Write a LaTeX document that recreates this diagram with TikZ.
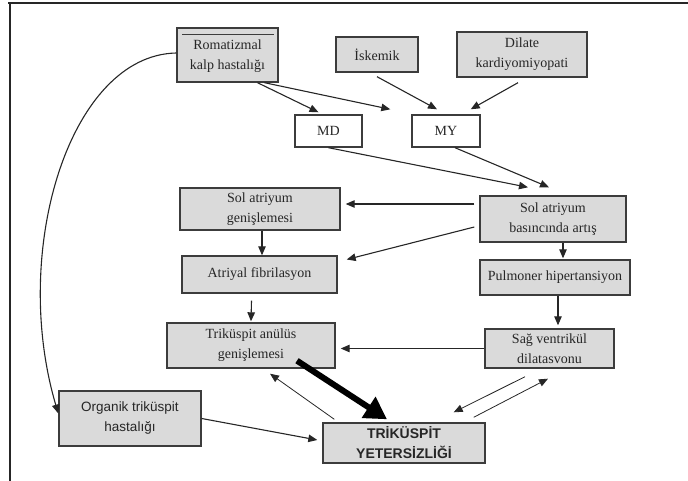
\documentclass[tikz,border=0pt]{standalone}
\usepackage{fontspec}
\setmainfont{Liberation Serif}
\newfontfamily\arialf{Liberation Sans}
\usepackage{tikz}
\usetikzlibrary{arrows.meta}

\definecolor{boxgray}{HTML}{DADADA}
\definecolor{edgegray}{HTML}{3C3C3C}
\tikzset{
  gbox/.style={draw=edgegray, fill=boxgray, line width=1.4pt, align=center,
    inner sep=0pt, text=black!85, font=\fontsize{14}{20}\selectfont},
  wbox/.style={gbox, fill=white},
  sbox/.style={gbox, font=\arialf\fontsize{13.5}{20}\selectfont},
  arr/.style={line width=1.1pt, draw=black!85, -{Triangle[length=9pt,width=7.5pt]}},
  thinarr/.style={line width=0.8pt, draw=black!85, -{Triangle[length=9pt,width=7.5pt]}},
}

\begin{document}
\begin{tikzpicture}[x=1pt,y=-1pt]
  \useasboundingbox (0,0) rectangle (688,481);
  \draw[line width=1.4pt, black!85] (8,3) -- (688,3);
  \draw[line width=1.2pt, black!85] (10,3) -- (10,481);

  \node[gbox, minimum width=101pt, minimum height=54pt, text depth=-6pt] (rom) at (227.5,55) {Romatizmal\\kalp hastalığı};
  \draw[line width=1.4pt, edgegray] ([xshift=6pt,yshift=-7pt]rom.north west) -- ([xshift=-5pt,yshift=-7pt]rom.north east);
  \node[gbox, minimum width=82pt, minimum height=35pt] (isk) at (377,54.5) {İskemik};
  \node[gbox, minimum width=130pt, minimum height=45pt] (dil) at (522,54.5) {Dilate\\kardiyomiyopati};
  \node[wbox, minimum width=67pt, minimum height=32pt] (md) at (328.5,131) {MD};
  \node[wbox, minimum width=68pt, minimum height=32pt] (my) at (446,131) {MY};

  \node[gbox, minimum width=160pt, minimum height=42pt] (sag) at (260,209) {Sol atriyum\\genişlemesi};
  \node[gbox, minimum width=146pt, minimum height=46pt] (sab) at (553,219) {Sol atriyum\\basıncında artış};
  \node[gbox, minimum width=155pt, minimum height=37pt] (af) at (259.5,274.5) {Atriyal fibrilasyon};
  \node[gbox, minimum width=150pt, minimum height=35pt] (ph) at (555,277.5) {Pulmoner hipertansiyon};
  \node[gbox, minimum width=168pt, minimum height=45pt] (tag) at (251,345.5) {Triküspit anülüs\\genişlemesi};
  \node[gbox, minimum width=129pt, minimum height=39pt] (rvd) at (549.5,348.5) {Sağ ventrikül\\dilatasvonu};
  \node[sbox, minimum width=142pt, minimum height=55pt] (org) at (130,418.5) {Organik triküspit\\hastalığı};
  \node[sbox, minimum width=162pt, minimum height=40pt, font=\arialf\bfseries\fontsize{14}{20}\selectfont] (ty) at (404,443) {TRİKÜSPİT\\YETERSİZLİĞİ};

  \draw[arr] ([xshift=30pt]rom.south) -- ([xshift=-10pt,yshift=2pt]md.north);
  \draw[arr] ([xshift=37pt]rom.south) -- ([xshift=-21pt,yshift=5pt]my.north west);
  \draw[arr] ([yshift=-4pt]isk.south) -- ([xshift=-9pt,yshift=5pt]my.north);
  \draw[arr] ([xshift=-4pt,yshift=-5pt]dil.south) -- ([xshift=-10pt,yshift=5pt]my.north east);
  \draw[arr] (md.south) -- ([xshift=-25pt,yshift=8pt]sab.north);
  \draw[arr] ([xshift=9pt]my.south) -- ([xshift=-4pt,yshift=8pt]sab.north);

  \draw[arr] ([xshift=-5pt,yshift=15pt]sab.west) -- ([xshift=5pt,yshift=5pt]sag.east);
  \draw[arr] ([xshift=-5pt,yshift=-8pt]sab.west) -- ([xshift=9pt,yshift=15pt]af.east);
  \draw[arr] ([xshift=2pt]sag.south) -- ([xshift=2.5pt]af.north);
  \draw[arr] ([xshift=-8pt,yshift=-7pt]af.south) -- ([yshift=1pt]tag.north);
  \draw[arr] ([xshift=10pt]sab.south) -- ([xshift=8pt,yshift=1pt]ph.north);
  \draw[arr] ([xshift=3pt]ph.south) -- ([xshift=8.5pt,yshift=3pt]rvd.north);
  \draw[arr] (rvd.west) -- ([xshift=5pt]tag.east |- rvd.west);

  \draw[line width=6pt, -{Triangle[length=22pt,width=24pt]}] ([xshift=46pt,yshift=8pt]tag.south) -- ([xshift=-17pt,yshift=3pt]ty.north);
  \draw[thinarr] ([xshift=12pt,yshift=3pt]ty.north west) -- ([xshift=19pt,yshift=-5pt]tag.south);
  \draw[thinarr] ([xshift=-24.5pt,yshift=-8pt]rvd.south) -- ([xshift=-32pt,yshift=10pt]ty.north east);
  \draw[thinarr] ([xshift=-12pt,yshift=5pt]ty.north east) -- ([xshift=-1.5pt,yshift=-10pt]rvd.south);
  \draw[arr] (org.east) -- ([xshift=-5pt,yshift=3pt]ty.west);

  \draw[arr] ([yshift=2pt]rom.west) .. controls (70,55) and (10,250) .. ([yshift=5pt]org.west);
\end{tikzpicture}
\end{document}
